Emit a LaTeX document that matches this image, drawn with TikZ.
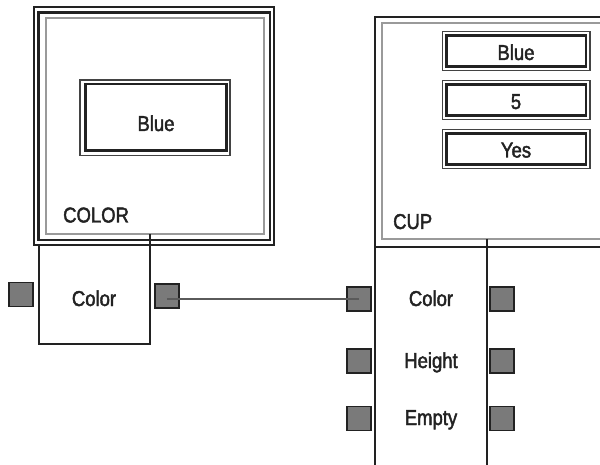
\documentclass[tikz,border=0pt]{standalone}
\usepackage{fontspec}
\setmainfont{Liberation Sans}[FakeStretch=0.86, FakeBold=2]
\definecolor{ink}{HTML}{222222}
\definecolor{framegray}{HTML}{9A9A9A}
\definecolor{portfill}{HTML}{7A7A7A}
\definecolor{wire}{HTML}{5A5A5A}
\tikzset{
  blk/.style={draw=ink, line width=2pt},
  blkthick/.style={draw=ink, line width=2.5pt},
  gry/.style={draw=framegray, line width=2pt},
  port/.style={draw=ink, fill=portfill, line width=1.8pt, minimum size=24pt, inner sep=0pt, outer sep=0pt},
  lbl/.style={font=\fontsize{21.5}{24}\selectfont, text=ink, inner sep=0pt, anchor=base},
  valbox/.style={draw=ink, line width=2.5pt, inner sep=0pt, outer sep=0pt, minimum width=139.5pt, minimum height=31pt},
  valouter/.style={draw=ink!85, line width=1.5pt},
  wireln/.style={draw=wire, line width=2pt}
}
\begin{document}
\begin{tikzpicture}[x=1pt,y=-1pt]
\useasboundingbox (0,0) rectangle (600,465);
\clip (0,0) rectangle (600,465);
% COLOR frame
\draw[blk] (34,7) rectangle (274,245.5);
\draw[blkthick] (38.5,12.5) rectangle (270,240);
\draw[gry] (46,18) rectangle (264,234.5);
% left Blue value box
\draw[valouter] (80,80) rectangle (230,155.5);
\draw[blkthick] (85.5,84) rectangle (226.5,150.5);
\node[lbl] (blueL) at (156,131) {Blue};
\node[lbl, anchor=base west] (colorlbl) at (63,222.5) {COLOR};
% Color property box under COLOR
\draw[blk] (149.5,234.5) -- (149.5,344) -- (38.5,344) -- (38.5,245.5);
\node[lbl] (colorprop) at (94,306) {Color};
\node[port] (pL) at (21,294.5) {};
\node[port] (pR) at (167,296) {};
% CUP frame
\draw[blk] (375,465) -- (375,17) -- (610,17);
\draw[gry] (610,23) -- (382,23) -- (382,239) -- (610,239);
\draw[blk] (375,247) -- (610,247);
\draw[blk] (487,239) -- (487,465);
\node[lbl, anchor=base west] (cuplbl) at (393,229) {CUP};
% CUP value boxes
\node[valbox] (v1) at (516.25,51) {};
\node[valbox] (v2) at (516.25,100) {};
\node[valbox] (v3) at (516.25,149) {};
\foreach \n in {v1,v2,v3}{
  \draw[valouter] ([shift={(-4pt,4pt)}]\n.north west) rectangle ([shift={(4pt,-4pt)}]\n.south east);
}
\node[lbl] (t1) at (516,60) {Blue};
\node[lbl] (t2) at (516,109) {5};
\node[lbl] (t3) at (516,157.5) {Yes};
% CUP properties
\node[lbl] (c1l) at (431,306) {Color};
\node[lbl] (c2l) at (431,368) {Height};
\node[lbl] (c3l) at (431,425) {Empty};
\node[port] (c1) at (359,299) {};
\node[port] (c2) at (359,361) {};
\node[port] (c3) at (359,418.5) {};
\node[port] (d1) at (502,299) {};
\node[port] (d2) at (502,361) {};
\node[port] (d3) at (502,418.5) {};
% connector
\draw[wireln] (pR.center |- c1.center) -- (c1.center);
\end{tikzpicture}
\end{document}
